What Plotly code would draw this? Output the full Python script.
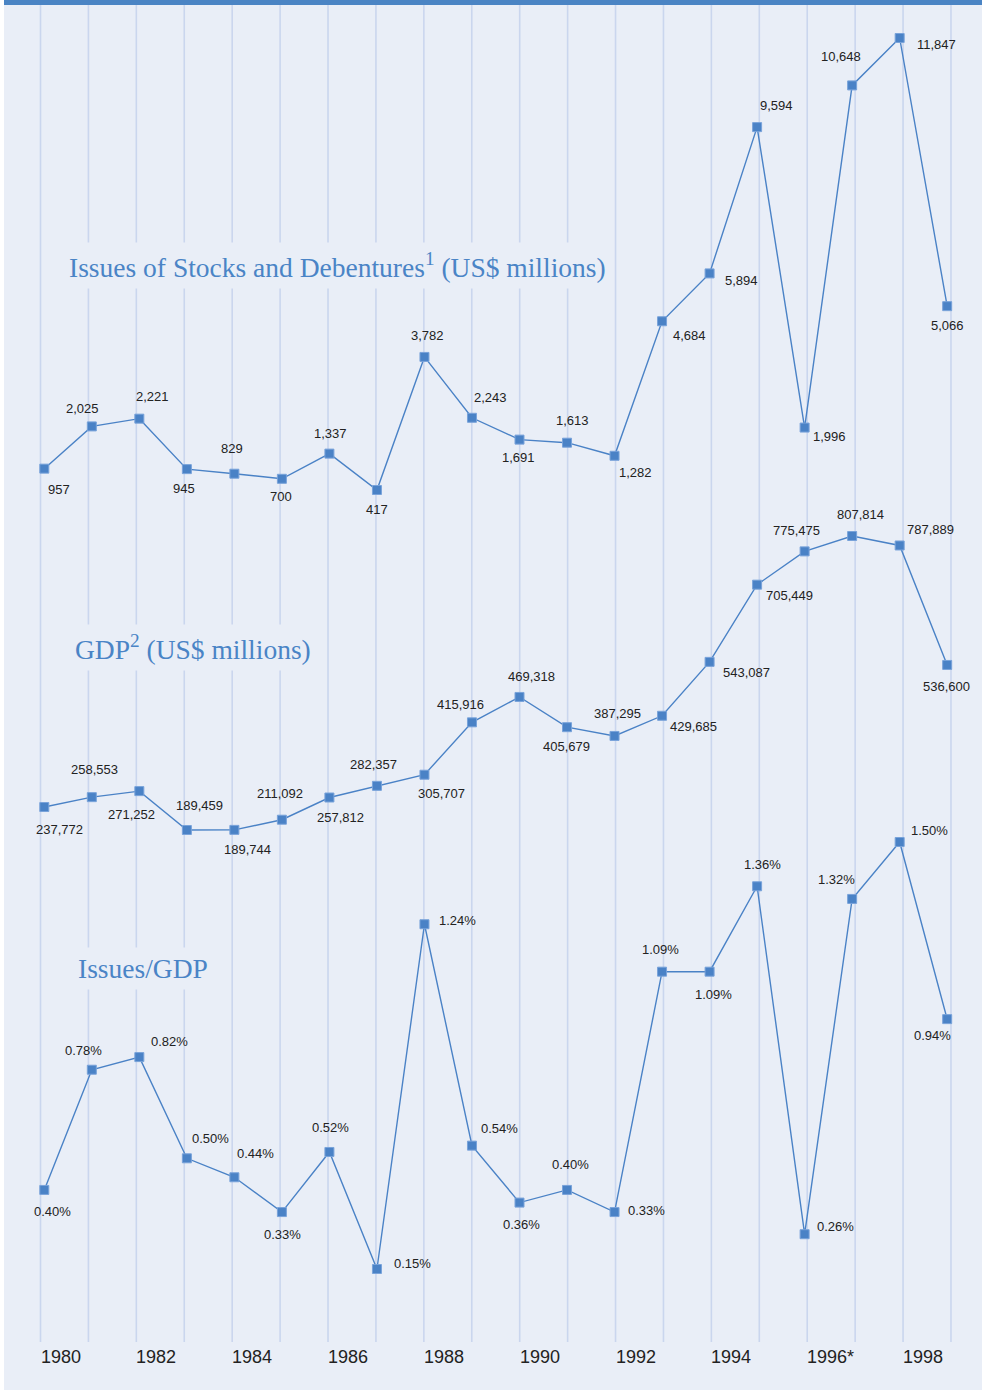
import plotly.graph_objects as go

# ---------------- data ----------------
issues = [957, 2025, 2221, 945, 829, 700, 1337, 417, 3782, 2243,
          1691, 1613, 1282, 4684, 5894, 9594, 1996, 10648, 11847, 5066]
gdp = [237772, 258553, 271252, 189459, 189744, 211092, 257812, 282357, 305707, 415916,
       469318, 405679, 387295, 429685, 543087, 705449, 775475, 807814, 787889, 536600]
ratio = [0.40, 0.78, 0.82, 0.50, 0.44, 0.33, 0.52, 0.15, 1.24, 0.54,
         0.36, 0.40, 0.33, 1.09, 1.09, 1.36, 0.26, 1.32, 1.50, 0.94]
year_labels = ["1980", "1982", "1984", "1986", "1988", "1990", "1992", "1994", "1996*", "1998"]
titles = ["Issues of Stocks and Debentures<sup>1</sup> (US$ millions)",
          "GDP<sup>2</sup> (US$ millions)",
          "Issues/GDP"]

# ---------------- styling ----------------
W, H = 982, 1390
BG = "#e9eef7"
BLUE = "#4a82c6"
GRID = "#cad6ee"
TXT = "#222222"

# label offsets (px right, px down) relative to each marker
off_issues = [(15, 21), (-9, -18), (13, -22), (-3, 19), (-2, -25), (-1, 18), (1, -20), (0, 19),
              (3, -21), (19, -20), (-1, 18), (5, -22), (21, 17), (27, 14), (32, 7), (19, -22),
              (25, 9), (-11, -29), (37, 6), (0, 19)]
off_gdp = [(15, 22), (3, -28), (-8, 23), (13, -25), (13, 20), (-2, -26), (11, 20), (-3, -21),
           (17, 19), (-11, -18), (12, -20), (-1, 19), (3, -22), (31, 11), (37, 11), (32, 11),
           (-8, -21), (8, -22), (31, -16), (-1, 22)]
off_ratio = [(8, 22), (-8, -19), (30, -16), (24, -20), (21, -24), (1, 22), (1, -24), (36, -6),
             (33, -4), (28, -17), (2, 22), (3, -25), (32, -2), (-2, -22), (4, 23), (5, -22),
             (31, -8), (-16, -19), (30, -12), (-15, 16)]

# pixel geometry
X0, STEP = 44.3, 47.52          # marker x of first point, spacing
G0, GSTEP = 40.5, 47.92         # gridline x of first line, spacing


def yrange(va, pa, vb, pb):
    k = (pb - pa) / (vb - va)
    return [va + (H - pa) / k, va + (0 - pa) / k]


n = len(issues)
xs = list(range(n))

fig = go.Figure()
series = [
    (issues, "y", yrange(417, 490, 11847, 38), off_issues, lambda v: f"{v:,}"),
    (gdp, "y2", yrange(189459, 830, 807814, 536), off_gdp, lambda v: f"{v:,}"),
    (ratio, "y3", yrange(0.15, 1269, 1.50, 842), off_ratio, lambda v: f"{v:.2f}%"),
]

annotations = []
for vals, yax, rng, offs, fmt in series:
    fig.add_trace(go.Scatter(
        x=xs, y=vals, yaxis=yax, mode="lines+markers", cliponaxis=False,
        line=dict(color=BLUE, width=1.4),
        marker=dict(symbol="square", size=9, color=BLUE, line=dict(color="#79a3da", width=1)),
        hoverinfo="skip", showlegend=False))
    for i, v in enumerate(vals):
        dx, dy = offs[i]
        annotations.append(dict(x=i, y=v, xref="x", yref=yax, text=fmt(v), showarrow=False,
                                xshift=dx, yshift=-dy,
                                font=dict(family="Liberation Sans, Arial, sans-serif", size=13, color=TXT)))

# x labels (left aligned on every second gridline)
for j, lab in enumerate(year_labels):
    annotations.append(dict(x=(G0 + GSTEP * 2 * j) / W - 0.002, y=1 - 1357 / H, xref="paper", yref="paper",
                            text=lab, showarrow=False, xanchor="left", yanchor="middle",
                            font=dict(family="Liberation Sans, Arial, sans-serif", size=18, color=TXT)))

# section titles
title_pos = [(63, 265), (69, 647), (72, 968)]
for t, (px, py) in zip(titles, title_pos):
    annotations.append(dict(x=px / W, y=1 - py / H, xref="paper", yref="paper", text=t,
                            showarrow=False, xanchor="left", yanchor="middle",
                            bgcolor=BG, borderpad=5,
                            font=dict(family="Liberation Serif, Times New Roman, serif", size=27.5,
                                      color="#4a84c6")))

shapes = []
# white left strip
shapes.append(dict(type="rect", xref="paper", yref="paper", x0=0, x1=4 / W, y0=0, y1=1,
                   fillcolor="white", line=dict(width=0), layer="below"))
# top bar
shapes.append(dict(type="rect", xref="paper", yref="paper", x0=4 / W, x1=1, y0=1 - 5 / H, y1=1,
                   fillcolor="#4a84c4", line=dict(width=0), layer="below"))
# vertical gridlines
for i in range(n):
    gx = (G0 + GSTEP * i) / W
    shapes.append(dict(type="line", xref="paper", yref="paper", x0=gx, x1=gx,
                       y0=1 - 1342 / H, y1=1 - 5 / H, line=dict(color=GRID, width=1.6), layer="below"))

hidden = dict(visible=False, showgrid=False, zeroline=False, fixedrange=True)
fig.update_layout(
    width=W, height=H, margin=dict(l=0, r=0, t=0, b=0),
    paper_bgcolor="white", plot_bgcolor=BG,
    xaxis=dict(range=[-X0 / STEP, (W - X0) / STEP], **hidden),
    yaxis=dict(range=series[0][2], **hidden),
    yaxis2=dict(range=series[1][2], overlaying="y", **hidden),
    yaxis3=dict(range=series[2][2], overlaying="y", **hidden),
    annotations=annotations, shapes=shapes,
)

fig.write_html("out.html", config={"displayModeBar": False},
               post_script="document.body.style.margin='0';document.body.style.overflow='hidden';")
